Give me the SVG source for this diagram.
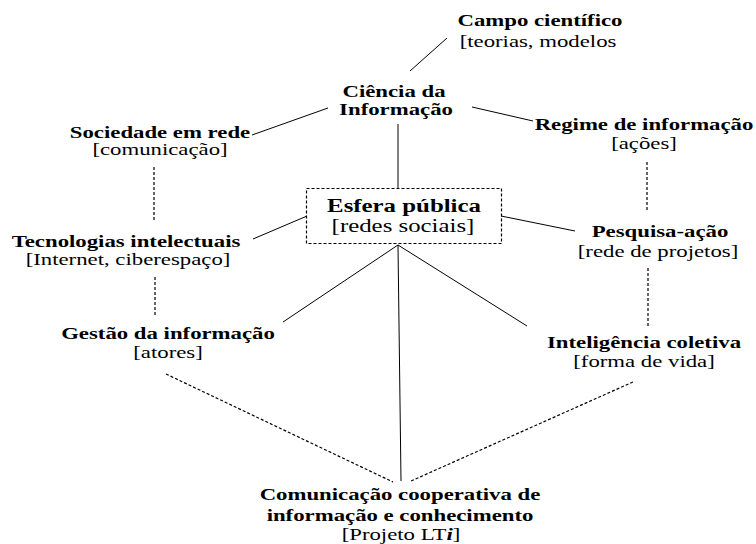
<svg xmlns="http://www.w3.org/2000/svg" width="756" height="544" viewBox="0 0 756 544">
<style>
text{fill:#000;text-anchor:middle}
.b{font-weight:bold;font-size:16.5px}
.r{font-size:16.5px}
.eb{font-weight:bold;font-size:18px}
.er{font-size:18px}
.s{stroke:#000;stroke-width:1;fill:none}
.d{stroke:#000;stroke-width:1.2;fill:none;stroke-dasharray:3 2}
</style>
<rect width="756" height="544" fill="#fff"/>
<g id="connectors">
<line class="s" x1="410" y1="71" x2="447" y2="38"/>
<line class="s" x1="252" y1="135" x2="328" y2="108"/>
<line class="s" x1="472" y1="107" x2="533" y2="121"/>
<line class="s" x1="398" y1="124" x2="398" y2="188"/>
<line class="s" x1="253" y1="239" x2="307" y2="216"/>
<line class="s" x1="501" y1="216" x2="575" y2="231"/>
<line class="s" x1="398" y1="245" x2="283" y2="322"/>
<line class="s" x1="398" y1="245" x2="401" y2="481"/>
<line class="s" x1="398" y1="245" x2="527" y2="326"/>
<line class="d" x1="154" y1="167" x2="154" y2="220"/>
<line class="d" x1="155" y1="277" x2="155" y2="315"/>
<line class="d" x1="647" y1="162" x2="647" y2="212"/>
<line class="d" x1="648" y1="268" x2="648" y2="327"/>
<line class="d" x1="166" y1="374" x2="393" y2="482"/>
<line class="d" x1="633" y1="382" x2="411" y2="481"/>
</g>
<g font-family="'Liberation Serif', 'Times New Roman', serif">
<g id="campo">
<text class="b" transform="translate(540 26) scale(1.38 1)">Campo científico</text>
<text class="r" transform="translate(538 47) scale(1.38 1)">[teorias, modelos</text>
</g>
<g id="ciencia">
<text class="b" transform="translate(394 97) scale(1.38 1)">Ciência da</text>
<text class="b" transform="translate(396 114.5) scale(1.38 1)">Informação</text>
</g>
<g id="regime">
<text class="b" transform="translate(644 130) scale(1.38 1)">Regime de informação</text>
<text class="r" transform="translate(644 149) scale(1.38 1)">[ações]</text>
</g>
<g id="sociedade">
<text class="b" transform="translate(160 138) scale(1.38 1)">Sociedade em rede</text>
<text class="r" transform="translate(160 155) scale(1.38 1)">[comunicação]</text>
</g>
<g id="esfera">
<rect class="d" x="306.5" y="188.5" width="195" height="55"/>
<text class="eb" transform="translate(404 212) scale(1.38 1)">Esfera pública</text>
<text class="er" transform="translate(403 232) scale(1.38 1)">[redes sociais]</text>
</g>
<g id="tecnologias">
<text class="b" transform="translate(126 247) scale(1.38 1)">Tecnologias intelectuais</text>
<text class="r" transform="translate(128 265) scale(1.38 1)">[Internet, ciberespaço]</text>
</g>
<g id="pesquisa">
<text class="b" transform="translate(660 237) scale(1.38 1)">Pesquisa-ação</text>
<text class="r" transform="translate(658 257) scale(1.38 1)">[rede de projetos]</text>
</g>
<g id="gestao">
<text class="b" transform="translate(168 339) scale(1.38 1)">Gestão da informação</text>
<text class="r" transform="translate(168 358) scale(1.38 1)">[atores]</text>
</g>
<g id="inteligencia">
<text class="b" transform="translate(644 348) scale(1.38 1)">Inteligência coletiva</text>
<text class="r" transform="translate(644 367) scale(1.38 1)">[forma de vida]</text>
</g>
<g id="comunicacao">
<text class="b" transform="translate(400 500) scale(1.38 1)">Comunicação cooperativa de</text>
<text class="b" transform="translate(400 521) scale(1.38 1)">informação e conhecimento</text>
<text class="r" transform="translate(401 540) scale(1.38 1)">[Projeto LT<tspan font-weight="bold" font-style="italic">i</tspan>]</text>
</g>
</g>
</svg>
